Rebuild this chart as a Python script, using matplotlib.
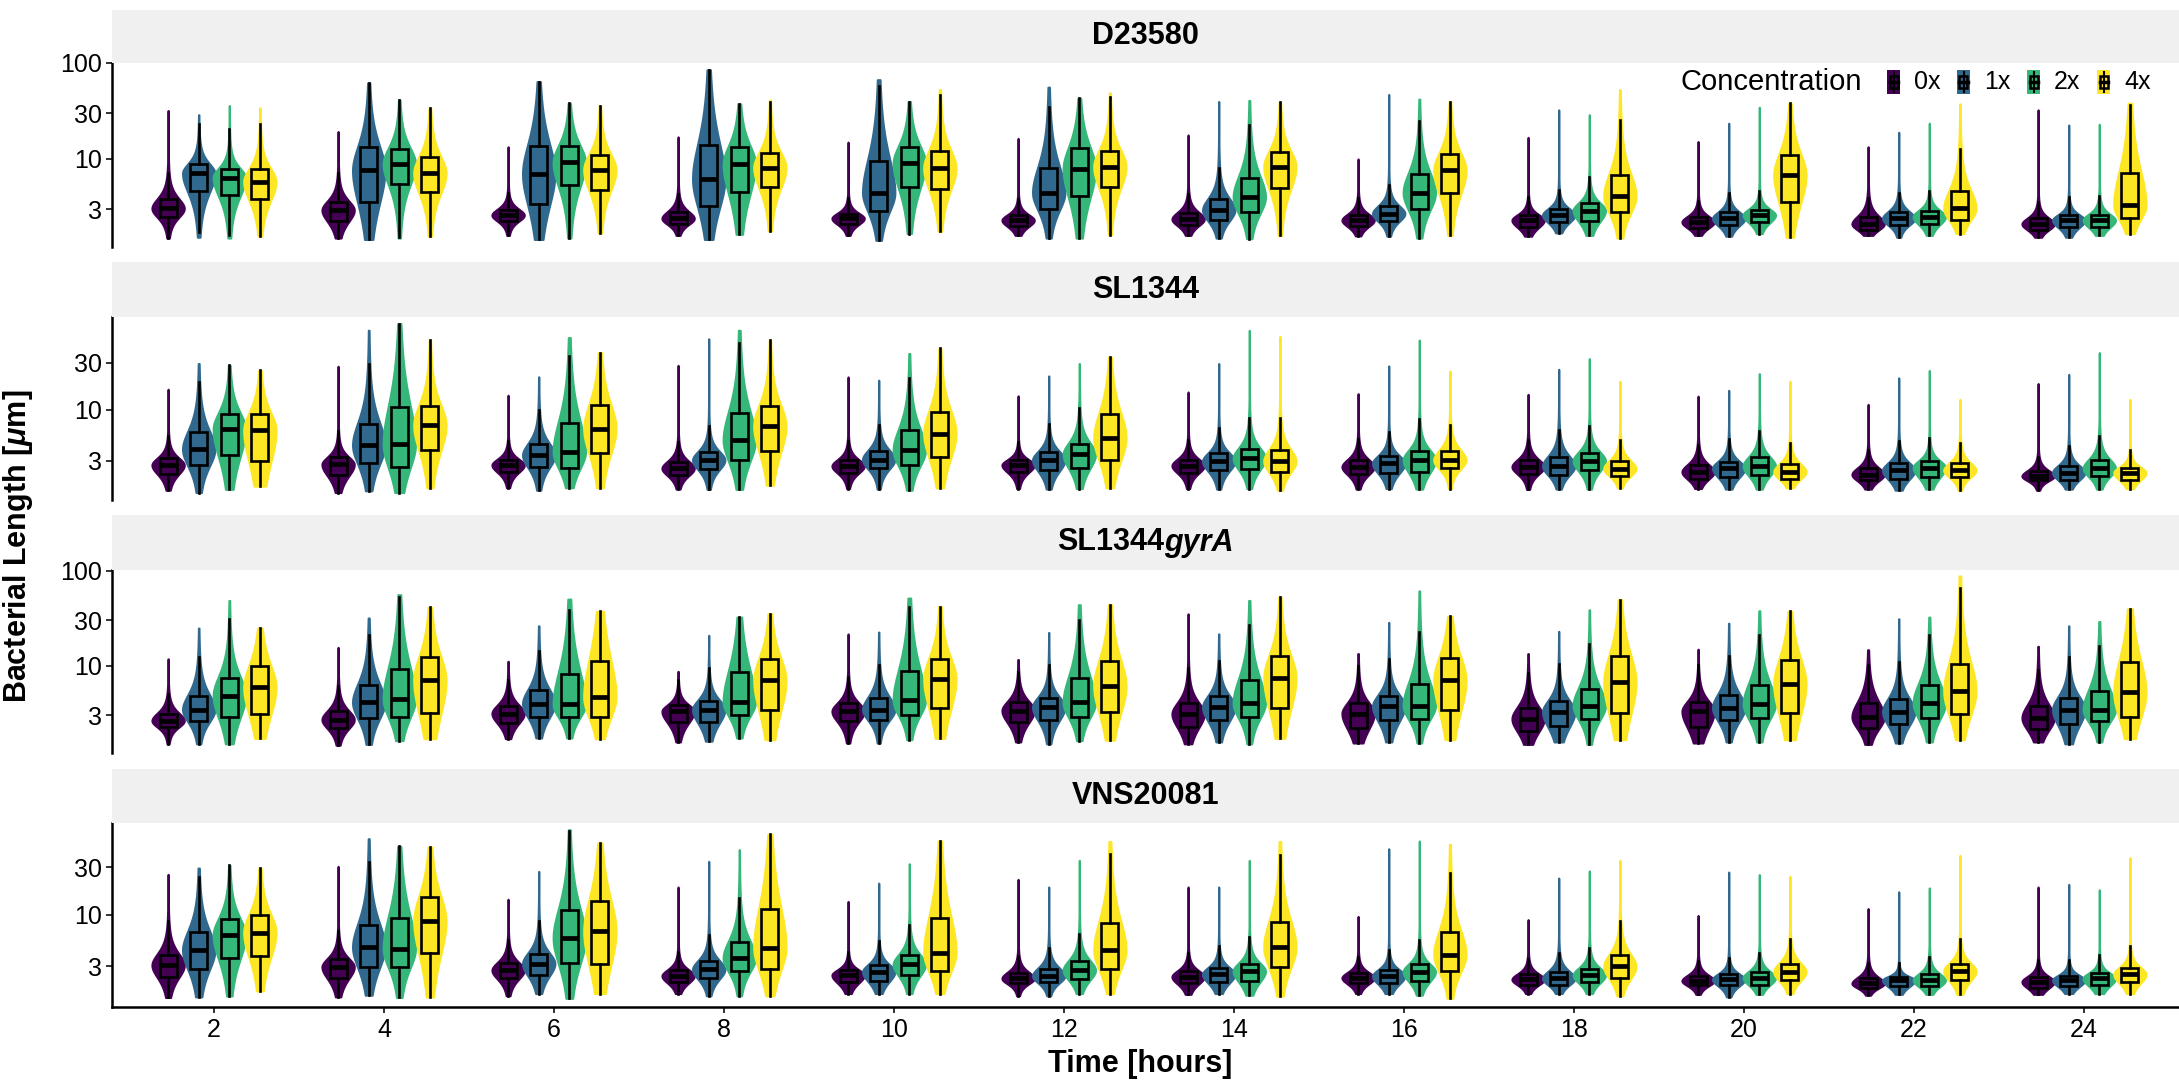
import numpy as np
import matplotlib
matplotlib.use("Agg")
import matplotlib.pyplot as plt
from matplotlib.patches import Rectangle
from matplotlib.lines import Line2D

plt.rcParams['font.family'] = ['Liberation Sans', 'DejaVu Sans']
plt.rcParams['mathtext.fontset'] = 'custom'
plt.rcParams['mathtext.rm'] = 'Liberation Sans'
plt.rcParams['mathtext.it'] = 'Liberation Sans:italic:bold'
plt.rcParams['mathtext.bf'] = 'Liberation Sans:bold'

strains = ["D23580", "SL1344", "SL1344gyrA", "VNS20081"]
times = [2, 4, 6, 8, 10, 12, 14, 16, 18, 20, 22, 24]
concs = ["0x", "1x", "2x", "4x"]
colors = ["#440154", "#31688E", "#35B779", "#FDE725"]

# rows = time points, columns = 0x, 1x, 2x, 4x  (lengths in um)
d23580_min = [[1.5, 1.53, 1.5, 1.58], [1.5, 1.45, 1.5, 1.57], [1.6, 1.45, 1.5, 1.7], [1.6, 1.45, 1.64, 1.78],
              [1.6, 1.42, 1.67, 1.77], [1.6, 1.5, 1.5, 1.63], [1.6, 1.5, 1.48, 1.6], [1.58, 1.57, 1.5, 1.6],
              [1.57, 1.7, 1.6, 1.5], [1.6, 1.57, 1.67, 1.53], [1.6, 1.53, 1.6, 1.67], [1.53, 1.53, 1.6, 1.67]]
d23580_q1 = [[2.5, 4.6, 4.2, 3.8], [2.27, 3.6, 5.5, 4.5], [2.27, 3.4, 5.3, 4.8], [2.1, 3.2, 4.5, 5.1],
             [2.1, 2.9, 5.1, 4.9], [2.0, 3.0, 4.1, 5.1], [2.04, 2.3, 2.77, 5.0], [2.0, 2.27, 3.0, 4.45],
             [1.96, 2.2, 2.27, 2.8], [1.93, 2.04, 2.2, 3.6], [1.84, 2.07, 2.1, 2.34], [1.84, 1.96, 1.96, 2.4]]
d23580_med = [[3.05, 7.1, 6.4, 5.8], [2.93, 7.6, 8.9, 7.1], [2.6, 7.0, 9.2, 7.7], [2.4, 6.2, 8.8, 8.1],
              [2.4, 4.45, 9.0, 8.0], [2.3, 4.45, 7.9, 8.3], [2.36, 2.93, 4.0, 8.3], [2.3, 2.7, 4.45, 7.6],
              [2.3, 2.6, 2.9, 4.1], [2.2, 2.4, 2.6, 6.8], [2.1, 2.4, 2.5, 3.05], [2.1, 2.3, 2.3, 3.3]]
d23580_q3 = [[3.8, 8.8, 7.9, 7.8], [3.6, 13.2, 12.8, 10.4], [2.97, 13.8, 13.5, 11.0], [2.8, 13.9, 13.4, 11.5],
             [2.7, 9.6, 13.4, 12.1], [2.6, 8.0, 12.9, 12.1], [2.75, 3.8, 6.4, 11.9], [2.63, 3.2, 7.0, 11.3],
             [2.6, 3.0, 3.45, 6.8], [2.5, 2.77, 2.97, 11.0], [2.5, 2.8, 2.88, 4.6], [2.4, 2.6, 2.63, 7.1]]
d23580_max = [[32, 28.9, 36, 34], [19.3, 62, 41, 34], [13.4, 64, 38, 36], [17, 85, 37.5, 41],
              [15, 67, 39.7, 53], [16.4, 56, 43, 48.7], [17.8, 39.7, 40.7, 38.8], [10, 47, 42, 39.7],
              [16.8, 32.5, 28.9, 52.6], [15.2, 23.6, 34.6, 38], [13.4, 19, 23.6, 37.5], [32.5, 22.6, 23, 38]]

sl1344_min = [[1.51, 1.43, 1.54, 1.66], [1.43, 1.49, 1.43, 1.6], [1.6, 1.51, 1.6, 1.6], [1.55, 1.54, 1.54, 1.7],
              [1.57, 1.55, 1.51, 1.6], [1.57, 1.55, 1.57, 1.6], [1.57, 1.55, 1.57, 1.51], [1.55, 1.57, 1.55, 1.57],
              [1.54, 1.55, 1.55, 1.6], [1.57, 1.55, 1.55, 1.6], [1.55, 1.51, 1.55, 1.51], [1.51, 1.55, 1.55, 1.57]]
sl1344_q1 = [[2.23, 2.72, 3.43, 3.0], [2.15, 2.83, 2.61, 3.9], [2.32, 2.61, 2.57, 3.64], [2.15, 2.48, 3.06, 3.8],
             [2.28, 2.52, 2.72, 3.3], [2.32, 2.4, 2.57, 3.1], [2.28, 2.4, 2.48, 2.32], [2.2, 2.28, 2.32, 2.52],
             [2.23, 2.18, 2.4, 2.13], [1.98, 2.07, 2.15, 1.98], [1.9, 1.98, 2.07, 2.07], [1.9, 1.94, 2.1, 1.94]]
sl1344_med = [[2.72, 3.95, 6.3, 6.16], [2.76, 4.34, 4.44, 6.93], [2.72, 3.43, 3.7, 6.4], [2.52, 3.06, 4.88, 6.8],
              [2.66, 3.1, 3.86, 5.7], [2.72, 3.06, 3.5, 5.16], [2.68, 2.98, 3.18, 2.98], [2.61, 2.83, 3.06, 3.06],
              [2.61, 2.66, 3.0, 2.5], [2.32, 2.52, 2.66, 2.32], [2.18, 2.4, 2.57, 2.4], [2.1, 2.28, 2.52, 2.28]]
sl1344_q3 = [[3.18, 5.9, 9.1, 9.1], [3.25, 7.2, 10.5, 10.9], [3.1, 4.44, 7.3, 11.0], [2.94, 3.7, 9.2, 10.8],
             [3.06, 3.8, 6.16, 9.5], [3.06, 3.7, 4.5, 9.0], [3.1, 3.57, 4.0, 3.86], [3.06, 3.35, 3.8, 3.8],
             [3.06, 3.3, 3.65, 2.98], [2.72, 2.94, 3.25, 2.76], [2.52, 2.83, 2.98, 2.83], [2.37, 2.66, 3.06, 2.57]]
sl1344_max = [[16.1, 29.4, 28.2, 25], [27.6, 64.1, 75, 51.5], [14.0, 21.5, 54, 38], [28.2, 52.5, 64.1, 51],
              [21.5, 19.9, 37.2, 42], [13.8, 22, 29.4, 34.2], [15.1, 29.4, 64.1, 55.6], [14.5, 27.8, 51, 24.7],
              [14.3, 25.7, 33.0, 19.4], [13.7, 15.7, 23.2, 19.4], [11.3, 21, 25, 12.7], [18.4, 22.8, 38, 12.7]]

gyra_min = [[1.5, 1.5, 1.5, 1.71], [1.45, 1.48, 1.62, 1.7], [1.7, 1.73, 1.73, 1.7], [1.57, 1.6, 1.73, 1.66],
            [1.53, 1.53, 1.66, 1.71], [1.57, 1.5, 1.62, 1.64], [1.5, 1.57, 1.5, 1.71], [1.53, 1.57, 1.53, 1.66],
            [1.48, 1.57, 1.48, 1.66], [1.53, 1.57, 1.57, 1.66], [1.48, 1.53, 1.57, 1.66], [1.57, 1.5, 1.57, 1.7]]
gyra_q1 = [[2.27, 2.6, 2.9, 3.13], [2.2, 2.81, 2.9, 3.2], [2.5, 2.9, 2.9, 2.9], [2.55, 2.53, 3.0, 3.44],
           [2.6, 2.7, 3.05, 3.6], [2.55, 2.7, 2.9, 3.26], [2.27, 2.66, 2.85, 3.6], [2.2, 2.66, 2.77, 3.44],
           [2.05, 2.3, 2.75, 3.17], [2.27, 2.66, 2.81, 3.17], [2.2, 2.4, 2.81, 3.1], [2.13, 2.4, 2.6, 2.9]]
gyra_med = [[2.63, 3.44, 4.83, 5.9], [2.7, 4.1, 4.46, 7.0], [3.13, 3.98, 3.9, 4.68], [3.3, 3.44, 4.15, 7.0],
            [3.3, 3.44, 4.3, 7.2], [3.36, 3.65, 4.1, 6.1], [3.1, 3.65, 4.05, 7.4], [3.13, 3.73, 3.8, 7.0],
            [2.75, 3.25, 3.8, 6.7], [3.3, 3.6, 3.95, 6.4], [2.88, 3.27, 4.05, 5.4], [2.81, 3.44, 3.44, 5.25]]
gyra_q3 = [[3.13, 4.83, 7.5, 9.8], [3.3, 6.31, 9.3, 12.2], [3.8, 5.5, 8.2, 11.1], [3.82, 4.28, 8.5, 11.7],
           [4.0, 4.57, 8.7, 11.8], [4.15, 4.6, 7.4, 11.1], [4.0, 4.75, 7.0, 12.5], [4.0, 4.83, 6.4, 12.0],
           [3.6, 4.21, 5.7, 12.5], [4.15, 4.95, 6.31, 11.4], [4.05, 4.4, 6.31, 10.5], [3.8, 4.6, 5.4, 10.8]]
gyra_max = [[11.8, 24.9, 48.7, 24.9], [15.6, 31.8, 56, 41.1], [11.1, 26.3, 50.3, 37.3], [8.7, 20.9, 32.5, 35.2],
            [21.6, 22.6, 51.6, 42], [11.6, 22.4, 43.9, 43.9], [35.2, 21.6, 48.7, 52.8], [13.4, 28.6, 61.4, 33.1],
            [13.4, 23, 38.8, 49.5], [14.9, 28, 37.9, 37.3], [14.7, 31.2, 32.5, 88.4], [16.0, 26.3, 29.2, 39.8]]

vns_min = [[1.46, 1.48, 1.51, 1.7], [1.48, 1.54, 1.46, 1.48], [1.52, 1.6, 1.43, 1.6], [1.6, 1.52, 1.52, 1.52],
           [1.6, 1.6, 1.6, 1.6], [1.52, 1.52, 1.6, 1.6], [1.57, 1.6, 1.54, 1.51], [1.6, 1.6, 1.54, 1.43],
           [1.6, 1.6, 1.6, 1.52], [1.57, 1.48, 1.57, 1.6], [1.54, 1.57, 1.57, 1.57], [1.57, 1.6, 1.6, 1.6]]
vns_q1 = [[2.36, 2.86, 3.67, 3.81], [2.3, 2.97, 2.97, 4.1], [2.27, 2.45, 3.28, 3.21], [2.07, 2.27, 2.7, 2.8],
          [2.07, 2.15, 2.45, 2.7], [2.02, 2.07, 2.22, 2.86], [2.02, 2.07, 2.13, 2.97], [2.02, 2.02, 2.15, 2.7],
          [1.97, 1.97, 2.07, 2.3], [1.93, 1.93, 1.97, 2.18], [1.83, 1.9, 1.9, 2.18], [1.83, 1.9, 1.93, 2.07]]
vns_med = [[3.09, 4.38, 6.2, 6.6], [2.97, 4.7, 4.55, 8.6], [2.75, 3.21, 5.8, 6.8], [2.41, 2.8, 3.66, 4.66],
           [2.45, 2.65, 3.14, 4.14], [2.27, 2.41, 2.75, 4.38], [2.36, 2.5, 2.69, 4.7], [2.3, 2.4, 2.65, 3.96],
           [2.22, 2.27, 2.45, 3.0], [2.15, 2.22, 2.3, 2.65], [2.02, 2.18, 2.18, 2.69], [2.1, 2.18, 2.27, 2.5]]
vns_q3 = [[3.96, 6.7, 8.97, 9.85], [3.57, 7.9, 9.3, 15.0], [3.26, 4.05, 11.1, 13.7], [2.75, 3.4, 5.3, 11.3],
          [2.75, 3.1, 3.9, 9.3], [2.6, 2.86, 3.4, 8.3], [2.69, 2.9, 3.21, 8.4], [2.59, 2.75, 3.14, 6.69],
          [2.5, 2.65, 2.86, 3.9], [2.42, 2.5, 2.65, 3.21], [2.3, 2.36, 2.5, 3.21], [2.36, 2.42, 2.55, 2.9]]
vns_max = [[25.5, 29.5, 31.4, 29.5], [30.7, 58.3, 48.8, 48.0], [14.3, 27.3, 71.8, 52.6], [19.0, 34.5, 45.2, 64.5],
           [13.6, 20.8, 32.6, 55.3], [22.7, 19.0, 35.3, 54.7], [19.0, 19.0, 35.3, 54.7], [9.6, 46.2, 55.3, 51.1],
           [8.9, 23.4, 27.6, 35.3], [9.8, 26.9, 25.3, 24.3], [11.5, 17.0, 18.6, 39.6], [19.0, 20.2, 17.8, 37.5]]

panel_stats = [
    (d23580_min, d23580_q1, d23580_med, d23580_q3, d23580_max),
    (sl1344_min, sl1344_q1, sl1344_med, sl1344_q3, sl1344_max),
    (gyra_min, gyra_q1, gyra_med, gyra_q3, gyra_max),
    (vns_min, vns_q1, vns_med, vns_q3, vns_max),
]
panel_ylim = [(1.21, 100), (1.2, 87.5), (1.2, 102), (1.17, 84)]

W, H = 2179, 1082
fig = plt.figure(figsize=(W / 100, H / 100), dpi=100)

# pixel layout (top, bottom) of each panel and its strip
panel_px = [(63, 247), (317, 500), (570, 753), (823, 1007)]
strip_px = [(10, 63), (262, 317), (515, 570), (769, 823)]
left_px, right_px = 112, 2179
cat_px = 170.0  # pixels per time category
xlo = -0.6
xhi = xlo + (right_px - left_px) / cat_px

dodge = 0.18
vwidth = 0.19
bwidth = 0.1


def violin_shape(lo, q1, med, q3, hi):
    # split, heavy-tailed profile in log space matched to the quartiles
    l0, l1, l2, l3, l4 = np.log10([lo, q1, med, q3, hi])
    iqr = l3 - l1
    whi = min(l4, l3 + 1.5 * iqr)
    wlo = max(l0, l1 - 1.5 * iqr)
    s_lo = max(l2 - l1, 0.01) / 0.765
    s_hi = max(l3 - l2, 0.01) / 0.765
    grid = np.linspace(l0, l4, 500)
    z = np.where(grid < l2, (grid - l2) / s_lo, (grid - l2) / s_hi)
    dens = (1 + z ** 2 / 3.0) ** -2.0
    stats = dict(coords=10 ** grid, vals=dens, mean=med, median=med, min=lo, max=hi)
    box = dict(med=med, q1=q1, q3=q3, whislo=10 ** wlo, whishi=10 ** whi, fliers=[])
    return stats, box


axes = []
for p, name in enumerate(strains):
    top, bot = panel_px[p]
    ax = fig.add_axes([left_px / W, 1 - bot / H, (right_px - left_px) / W, (bot - top) / H])
    axes.append(ax)
    mins, q1s, meds, q3s, maxs = panel_stats[p]
    for j in range(len(concs)):
        vstats, bstats, pos = [], [], []
        for i in range(len(times)):
            vs, bs = violin_shape(mins[i][j], q1s[i][j], meds[i][j], q3s[i][j], maxs[i][j])
            vstats.append(vs)
            bstats.append(bs)
            pos.append(i + (j - 1.5) * dodge)
        parts = ax.violin(vstats, positions=pos, widths=vwidth,
                          showmeans=False, showextrema=False, showmedians=False)
        for body in parts['bodies']:
            body.set_facecolor(colors[j])
            body.set_edgecolor(colors[j])
            body.set_linewidth(1.5)
            body.set_alpha(1)
        ax.bxp(bstats, positions=pos, widths=bwidth, patch_artist=True,
               showfliers=False, showcaps=False,
               boxprops=dict(facecolor=colors[j], edgecolor="black", linewidth=1.9),
               medianprops=dict(color="black", linewidth=3.4, solid_capstyle="butt"),
               whiskerprops=dict(color="black", linewidth=1.9))
    ax.set_yscale("log")
    ax.set_ylim(*panel_ylim[p])
    ax.set_xlim(xlo, xhi)
    yt = [t for t in [3, 10, 30, 100] if panel_ylim[p][0] <= t <= panel_ylim[p][1]]
    ax.set_yticks(yt)
    ax.set_yticklabels([str(t) for t in yt])
    ax.yaxis.set_minor_locator(matplotlib.ticker.NullLocator())
    for s in ["top", "right"]:
        ax.spines[s].set_visible(False)
    ax.spines["left"].set_linewidth(1.8)
    ax.tick_params(axis="y", length=4, width=1.4, color="#333333", labelsize=18, pad=3)
    ax.set_xticks(range(len(times)))
    if p < len(strains) - 1:
        ax.spines["bottom"].set_visible(False)
        ax.tick_params(axis="x", bottom=False, labelbottom=False)
    else:
        ax.spines["bottom"].set_linewidth(1.8)
        ax.set_xticklabels([str(t) for t in times])
        ax.tick_params(axis="x", length=4, width=1.4, color="#333333", labelsize=18, pad=4)

    # strip
    st, sb = strip_px[p]
    fig.add_artist(Rectangle((left_px / W, 1 - sb / H), (right_px - left_px) / W, (sb - st) / H,
                             transform=fig.transFigure, facecolor="#F0F0F0", edgecolor="none"))
    cx = (left_px + right_px) / 2 / W
    cy = 1 - (st + sb) / 2 / H
    if name.endswith("gyrA"):
        renderer = fig.canvas.get_renderer()
        t1 = fig.text(0, cy, name[:-4], fontsize=22, fontweight="bold", va="center", ha="left")
        t2 = fig.text(0, cy, "gyrA", fontsize=22, fontweight="bold", style="italic", va="center", ha="left")
        w1 = t1.get_window_extent(renderer).width / W
        w2 = t2.get_window_extent(renderer).width / W
        t1.set_x(cx - (w1 + w2) / 2)
        t2.set_x(cx - (w1 + w2) / 2 + w1)
    else:
        fig.text(cx, cy, name, fontsize=22, fontweight="bold", va="center", ha="center")

# axis titles
fig.text(18 / W, 1 - 546 / H, r"Bacterial Length [$\mu$m]", rotation=90, fontsize=22,
         fontweight="bold", va="center", ha="center")
fig.text(1140 / W, 1 - 1064 / H, "Time [hours]", fontsize=22, fontweight="bold",
         va="center", ha="center")

# legend
ly = 1 - 82 / H
fig.text(1680 / W, ly, "Concentration", fontsize=21, va="center", ha="left")
key_x = [1887, 1957, 2027, 2097]
kw, kh = 13, 24
for j, c in enumerate(concs):
    x0 = key_x[j]
    yb = 82 + kh / 2
    fig.add_artist(Rectangle((x0 / W, 1 - yb / H), kw / W, kh / H, transform=fig.transFigure,
                             facecolor=colors[j], edgecolor="none"))
    fig.add_artist(Line2D([(x0 + kw / 2) / W] * 2, [1 - (82 + 10) / H, 1 - (82 - 10) / H],
                          transform=fig.transFigure, color="black", linewidth=1.5))
    fig.add_artist(Rectangle(((x0 + 2.5) / W, 1 - (82 + 6) / H), (kw - 5) / W, 12 / H,
                             transform=fig.transFigure, facecolor=colors[j], edgecolor="black",
                             linewidth=1.8))
    fig.add_artist(Line2D([(x0 + 2.5) / W, (x0 + kw - 2.5) / W], [ly, ly],
                          transform=fig.transFigure, color="black", linewidth=2.5))
    fig.text((x0 + kw + 14) / W, ly, c, fontsize=18, va="center", ha="left")

fig.savefig("out.png", dpi=100)
